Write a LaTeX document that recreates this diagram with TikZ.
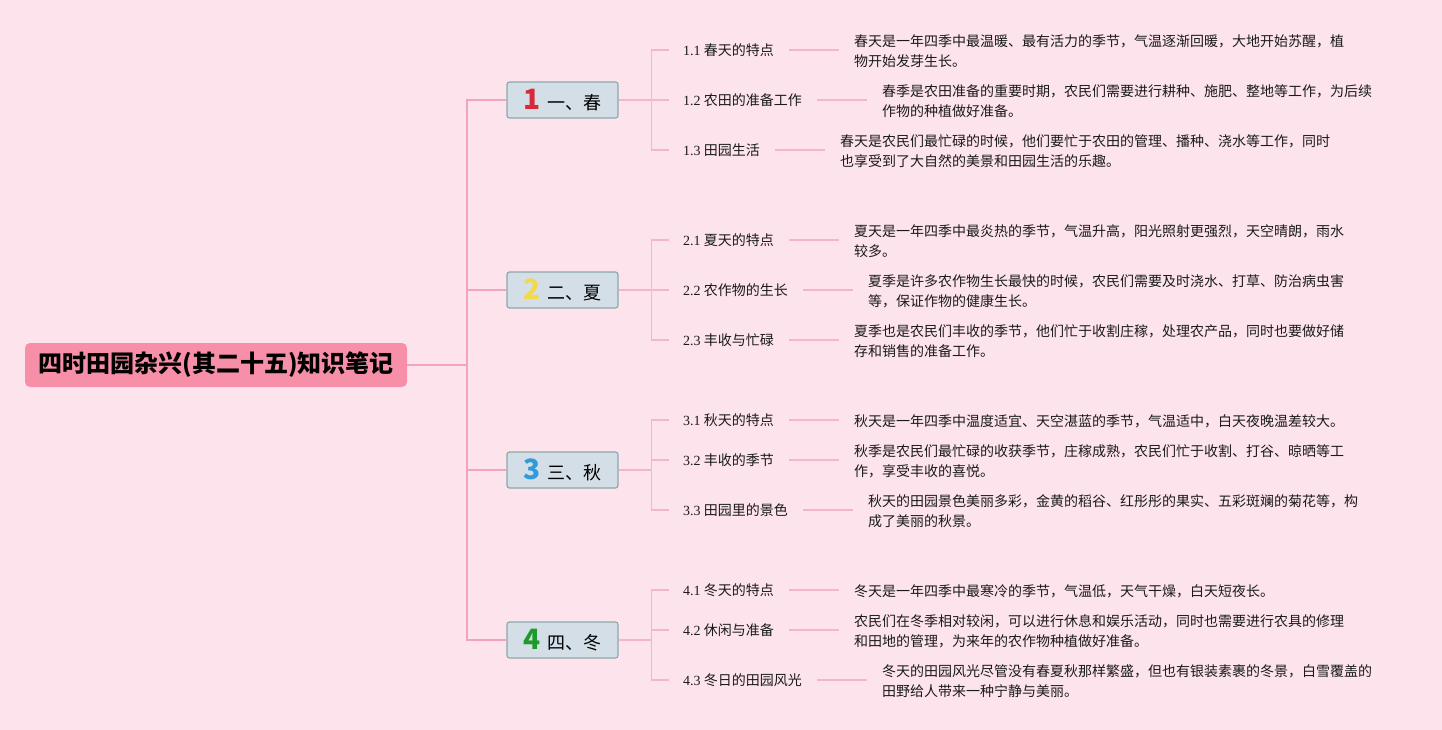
\documentclass[tikz,border=0pt]{standalone}
\usepackage{fontspec}
\setmainfont{Noto Sans CJK SC}
\newfontfamily\latf{Liberation Serif}
\usetikzlibrary{calc}
\definecolor{bgc}{HTML}{FDE4EC}
\definecolor{rootc}{HTML}{F88FA8}
\definecolor{brfill}{HTML}{D4DEE6}
\definecolor{brdraw}{HTML}{8BA9A9}
\definecolor{mainln}{HTML}{F3A3BC}
\definecolor{subln}{HTML}{F5B6C9}
\definecolor{txt}{HTML}{1A1A1A}
\definecolor{nred}{HTML}{D9283A}
\definecolor{nyel}{HTML}{F3D84A}
\definecolor{nblu}{HTML}{2E9BDC}
\definecolor{ngrn}{HTML}{1E9A2A}
\tikzset{
  rootbox/.style={fill=rootc, rounded corners=5pt, minimum width=382pt, minimum height=44pt, inner sep=0pt, font=\fontsize{24}{26}\selectfont\bfseries, text=black},
  brbox/.style={fill=brfill, draw=brdraw, line width=1.2pt, rounded corners=2.5pt, minimum width=111pt, minimum height=36pt, inner sep=0pt, font=\fontsize{18}{20}\selectfont, text=black},
  lab/.style={anchor=west, inner xsep=0pt, inner ysep=2pt, font=\fontsize{14}{16}\selectfont, text=txt},
  det/.style={anchor=west, inner xsep=0pt, inner ysep=2pt, align=left, font=\fontsize{14}{20}\selectfont, text=txt},
  mline/.style={draw=mainln, line width=1.5pt},
  sline/.style={draw=subln, line width=1.3pt},
}
\newcommand{\bnumx}[2]{{\fontsize{28}{28}\selectfont\bfseries\color{#1}#2}\hspace{7pt}}
\newcommand{\latn}[1]{{\latf #1}}
\begin{document}
\begin{tikzpicture}[x=1pt,y=-1pt]
\fill[bgc] (0,0) rectangle (1442,730);
\useasboundingbox (0,0) rectangle (1442,730);

\node[rootbox] (r) at (216,365) {四时田园杂兴(其二十五)知识笔记};

\node[brbox] (b1) at (562.5,100) {\bnumx{nred}{1}一、春};
\node[brbox] (b2) at (562.5,290) {\bnumx{nyel}{2}二、夏};
\node[brbox] (b3) at (562.5,470) {\bnumx{nblu}{3}三、秋};
\node[brbox] (b4) at (562.5,640) {\bnumx{ngrn}{4}四、冬};

\coordinate (tk) at (467,365);
\draw[mline] (r.east) -- (tk);
\foreach \b in {b1,b2,b3,b4} \draw[mline] (tk) |- (\b.west);

% labels
\node[lab] (c11) at (683,50) {\latn{1.1} 春天的特点};
\node[lab] (c12) at (683,100) {\latn{1.2} 农田的准备工作};
\node[lab] (c13) at (683,150) {\latn{1.3} 田园生活};
\node[lab] (c21) at (683,240) {\latn{2.1} 夏天的特点};
\node[lab] (c22) at (683,290) {\latn{2.2} 农作物的生长};
\node[lab] (c23) at (683,340) {\latn{2.3} 丰收与忙碌};
\node[lab] (c31) at (683,420) {\latn{3.1} 秋天的特点};
\node[lab] (c32) at (683,460) {\latn{3.2} 丰收的季节};
\node[lab] (c33) at (683,510) {\latn{3.3} 田园里的景色};
\node[lab] (c41) at (683,590) {\latn{4.1} 冬天的特点};
\node[lab] (c42) at (683,630) {\latn{4.2} 休闲与准备};
\node[lab] (c43) at (683,680) {\latn{4.3} 冬日的田园风光};

% details
\node[det] (d11) at (854,51) {春天是一年四季中最温暖、最有活力的季节，气温逐渐回暖，大地开始苏醒，植\\物开始发芽生长。};
\node[det] (d12) at (882,101) {春季是农田准备的重要时期，农民们需要进行耕种、施肥、整地等工作，为后续\\作物的种植做好准备。};
\node[det] (d13) at (840,151) {春天是农民们最忙碌的时候，他们要忙于农田的管理、播种、浇水等工作，同时\\也享受到了大自然的美景和田园生活的乐趣。};
\node[det] (d21) at (854,241) {夏天是一年四季中最炎热的季节，气温升高，阳光照射更强烈，天空晴朗，雨水\\较多。};
\node[det] (d22) at (868,291) {夏季是许多农作物生长最快的时候，农民们需要及时浇水、打草、防治病虫害\\等，保证作物的健康生长。};
\node[det] (d23) at (854,341) {夏季也是农民们丰收的季节，他们忙于收割庄稼，处理农产品，同时也要做好储\\存和销售的准备工作。};
\node[det] (d31) at (854,421) {秋天是一年四季中温度适宜、天空湛蓝的季节，气温适中，白天夜晚温差较大。};
\node[det] (d32) at (854,461) {秋季是农民们最忙碌的收获季节，庄稼成熟，农民们忙于收割、打谷、晾晒等工\\作，享受丰收的喜悦。};
\node[det] (d33) at (868,511) {秋天的田园景色美丽多彩，金黄的稻谷、红彤彤的果实、五彩斑斓的菊花等，构\\成了美丽的秋景。};
\node[det] (d41) at (854,591) {冬天是一年四季中最寒冷的季节，气温低，天气干燥，白天短夜长。};
\node[det] (d42) at (854,631) {农民们在冬季相对较闲，可以进行休息和娱乐活动，同时也需要进行农具的修理\\和田地的管理，为来年的农作物种植做好准备。};
\node[det] (d43) at (882,681) {冬天的田园风光尽管没有春夏秋那样繁盛，但也有银装素裹的冬景，白雪覆盖的\\田野给人带来一种宁静与美丽。};

% branch to child connectors
\foreach \b/\x in {1/b1,2/b2,3/b3,4/b4}{
  \coordinate (k\b) at ($(\x.east)+(33,0)$);
  \draw[sline] (\x.east) -- (k\b);
  \foreach \c in {1,2,3}{
    \draw[sline] (k\b) |- ([xshift=-14pt]c\b\c.west);
    \draw[sline] ([xshift=15pt]c\b\c.east) -- ([xshift=-15pt]c\b\c.east -| d\b\c.west);
  }
}
\end{tikzpicture}
\end{document}
